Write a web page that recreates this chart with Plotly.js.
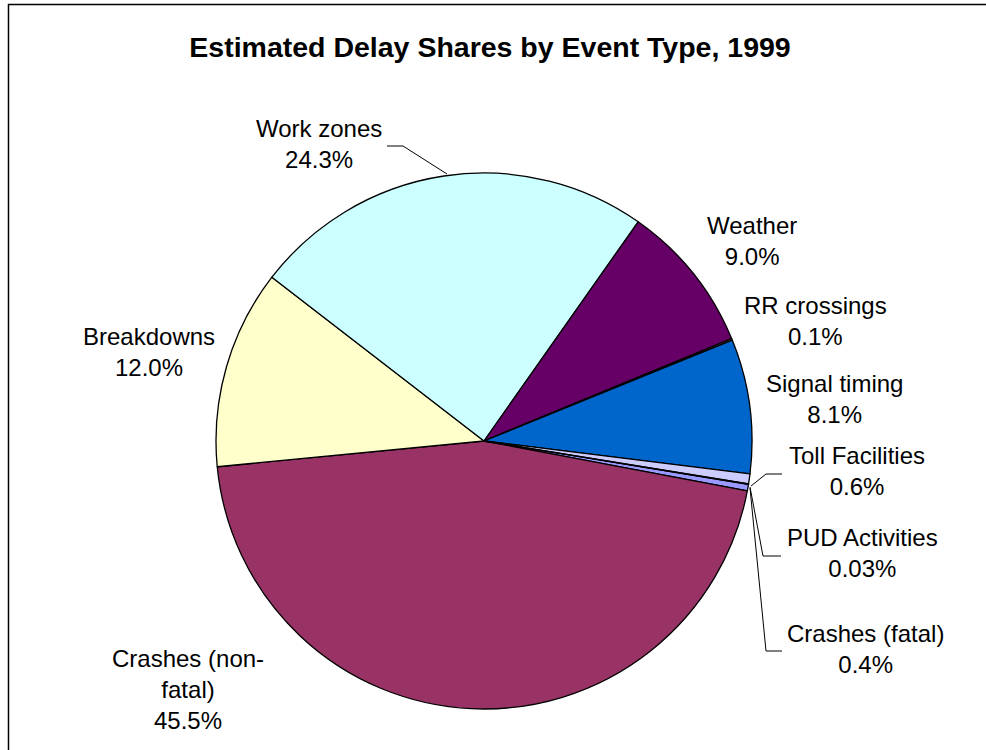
<!DOCTYPE html>
<html>
<head>
<meta charset="utf-8">
<script src="https://cdn.plot.ly/plotly-3.0.1.min.js"></script>
<style>html,body{margin:0;padding:0;background:#fff;}#chart{width:986px;height:750px;}</style>
</head>
<body>
<div id="chart"></div>
<script>
// Data (Excel series order, clockwise)
const categories = ["Crashes (fatal)", "Crashes (non-fatal)", "Breakdowns", "Work zones", "Weather", "RR crossings", "Signal timing", "Toll Facilities", "PUD Activities"];
const shares = [0.4, 45.5, 12.0, 24.3, 9.0, 0.1, 8.1, 0.6, 0.03];
const labelText = ["Crashes (fatal)", "Crashes (non-<br>fatal)", "Breakdowns", "Work zones", "Weather", "RR crossings", "Signal timing", "Toll Facilities", "PUD Activities"];
const colors = ["#9999FF", "#993366", "#FFFFCC", "#CCFFFF", "#660066", "#FF8080", "#0066CC", "#CCCCFF", "#000080"];

// Layout helpers (pixel positions of labels, not data)
const W = 986, H = 750;
const px = x => x / W, py = y => 1 - y / H;
const labelPos = [[865, 649], [188, 689], [149, 352], [319, 144], [752, 241], [815, 321], [834, 399], [857, 471], [862, 553]];
const leaderPaths = [
  [[387,146],[403,146],[447,174]],
  [[782,474],[766,474],[751,486]],
  [[781,556],[763,556],[750,487]],
  [[782,651],[766,651],[750,488]]
];

function fmt(v){ return v < 0.1 ? v.toFixed(2) + "%" : v.toFixed(1) + "%"; }

const annotations = categories.map((c, i) => ({
  xref: "paper", yref: "paper",
  x: px(labelPos[i][0]), y: py(labelPos[i][1]),
  xanchor: "center", yanchor: "middle",
  text: labelText[i] + "<br>" + fmt(shares[i]),
  showarrow: false,
  font: {family: "Liberation Sans, Arial, sans-serif", size: 24, color: "#000"},
  align: "center"
}));

const shapes = leaderPaths.map(p => ({
  type: "path", xref: "paper", yref: "paper",
  path: "M" + p.map(q => px(q[0]) + "," + py(q[1])).join(" L"),
  line: {color: "#000", width: 1}
}));
shapes.push({
  type: "rect", xref: "paper", yref: "paper",
  x0: px(8.5), x1: 1.02, y0: -0.02, y1: py(4.5),
  line: {color: "#000", width: 1.5}, fillcolor: "rgba(0,0,0,0)"
});

const trace = {
  type: "pie",
  labels: categories,
  values: shares,
  sort: false,
  direction: "clockwise",
  rotation: 99.3,
  marker: {colors: colors, line: {color: "#000", width: 1.3}},
  textinfo: "none",
  hoverinfo: "label+percent",
  showlegend: false,
  domain: {x: [216/W, 752/W], y: [1 - 709/H, 1 - 173/H]}
};

const layout = {
  width: W, height: H,
  margin: {l: 0, r: 0, t: 0, b: 0},
  paper_bgcolor: "#fff",
  title: {
    text: "<b>Estimated Delay Shares by Event Type, 1999</b>",
    xref: "container", yref: "container",
    x: 490/W, y: 1 - 47/H, xanchor: "center", yanchor: "middle",
    font: {family: "Liberation Sans, Arial, sans-serif", size: 28.5, color: "#000"}
  },
  annotations: annotations,
  shapes: shapes,
  showlegend: false
};

Plotly.newPlot("chart", [trace], layout, {displayModeBar: false, staticPlot: true});
</script>
</body>
</html>
